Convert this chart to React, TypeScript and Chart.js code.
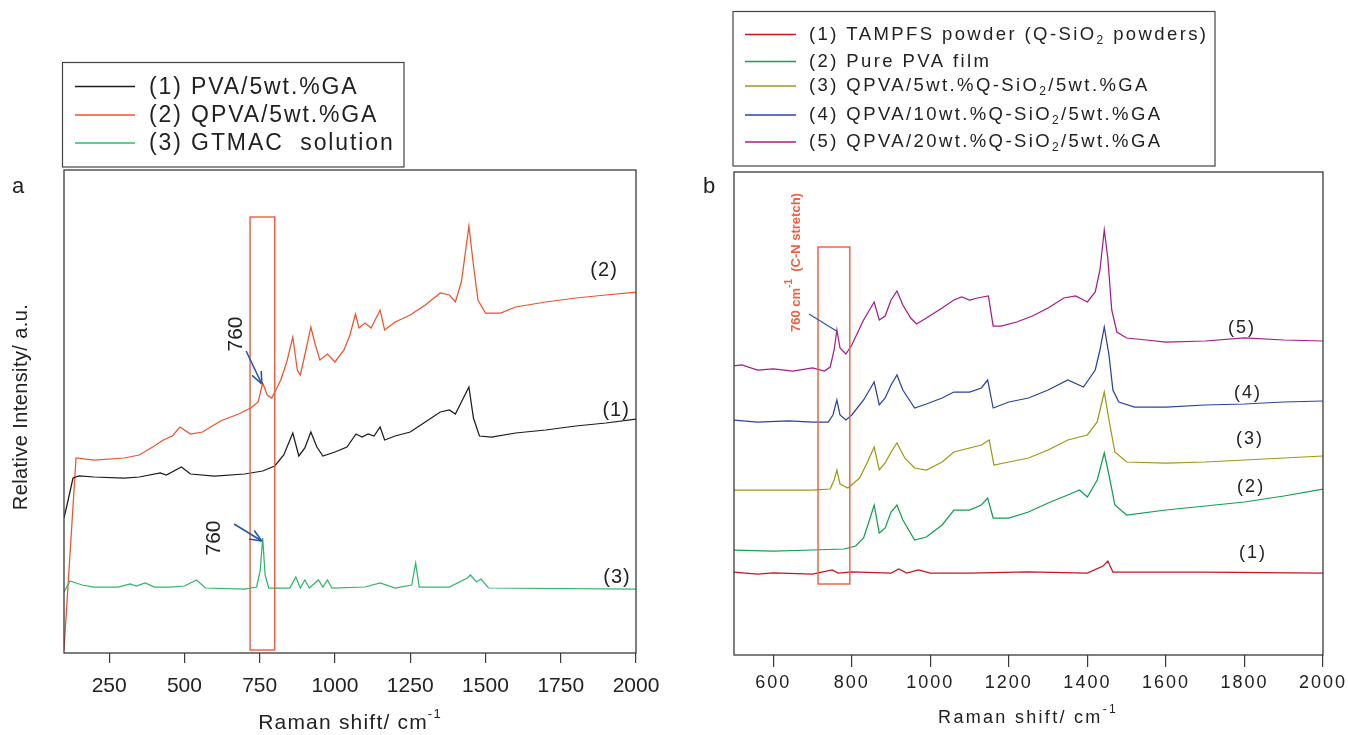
import React, { useEffect, useRef } from 'react';
import { Chart, registerables } from 'chart.js';

Chart.register(...registerables);

// ---------------- Panel a data ----------------
const A_X_TICKS = [250, 500, 750, 1000, 1250, 1500, 1750, 2000];

const A1_SHIFT = [100, 110, 130, 150, 200, 300, 350, 420, 440, 490, 520, 600, 700, 760, 800, 830, 860, 880, 900, 920, 940, 960, 1000, 1040, 1070, 1090, 1110, 1130, 1150, 1165, 1200, 1250, 1300, 1350, 1380, 1400, 1420, 1445, 1460, 1480, 1520, 1600, 1700, 1800, 1900, 2000];
const A1_INT = [135, 148, 175, 177, 176, 175, 176, 180, 178, 186, 179, 177, 179, 182, 187, 198, 220, 197, 205, 221, 206, 197, 201, 206, 219, 216, 219, 217, 226, 213, 217, 221, 231, 241, 243, 239, 251, 266, 235, 217, 216, 220, 223, 227, 230, 234];

const A2_SHIFT = [100, 140, 200, 300, 350, 400, 430, 460, 485, 520, 560, 620, 680, 720, 745, 760, 775, 790, 820, 840, 860, 875, 885, 900, 920, 935, 950, 975, 1000, 1030, 1050, 1068, 1080, 1100, 1120, 1150, 1165, 1200, 1250, 1300, 1350, 1380, 1400, 1420, 1445, 1460, 1475, 1500, 1550, 1600, 1700, 1800, 1900, 2000];
const A2_INT = [3, 195, 193, 195, 198, 207, 213, 217, 226, 219, 221, 232, 239, 245, 251, 270, 258, 255, 273, 291, 316, 283, 278, 298, 326, 308, 293, 299, 291, 303, 318, 339, 325, 330, 325, 343, 323, 331, 338, 348, 360, 358, 351, 371, 427, 388, 353, 340, 340, 346, 351, 355, 358, 361];

const A3_SHIFT = [100, 120, 140, 160, 200, 280, 320, 340, 370, 400, 450, 500, 540, 570, 700, 740, 752, 760, 768, 780, 850, 870, 885, 900, 915, 945, 960, 975, 990, 1100, 1150, 1200, 1255, 1268, 1280, 1380, 1440, 1450, 1470, 1485, 1510, 2000];
const A3_INT = [61, 72, 70, 68, 66, 66, 69, 67, 70, 66, 66, 67, 73, 65, 64, 66, 83, 115, 78, 65, 65, 76, 65, 73, 65, 73, 66, 73, 65, 66, 70, 65, 68, 90, 66, 66, 75, 78, 71, 74, 65, 64];

const A_LABELS = ['(1) PVA/5wt.%GA', '(2) QPVA/5wt.%GA', '(3) GTMAC  solution'];
const A_COLORS = ['#1c1c1c', '#f0522c', '#2fb768'];

// ---------------- Panel b data ----------------
const B_X_TICKS = [600, 800, 1000, 1200, 1400, 1600, 1800, 2000];

const B1_SHIFT = [500, 560, 600, 700, 750, 765, 800, 900, 920, 940, 970, 1000, 1100, 1250, 1400, 1440, 1452, 1465, 1700, 2000];
const B1_INT = [83, 81, 82, 81, 85, 82, 83, 82, 86, 82, 85, 82, 82, 83, 82, 89, 94, 83, 83, 82];

const B2_SHIFT = [500, 600, 700, 780, 810, 830, 845, 857, 870, 885, 900, 915, 930, 960, 990, 1030, 1060, 1100, 1130, 1146, 1160, 1200, 1250, 1300, 1350, 1380, 1400, 1425, 1443, 1455, 1470, 1500, 1600, 1700, 1800, 1900, 2000];
const B2_INT = [105, 104, 105, 106, 109, 117, 135, 150, 122, 127, 143, 150, 135, 115, 118, 130, 145, 145, 150, 157, 137, 137, 143, 152, 160, 165, 158, 175, 202, 180, 150, 140, 145, 149, 153, 159, 166];

const B3_SHIFT = [500, 600, 700, 745, 755, 762, 770, 790, 820, 840, 857, 870, 885, 900, 915, 935, 960, 990, 1030, 1060, 1100, 1130, 1150, 1162, 1200, 1250, 1300, 1350, 1400, 1425, 1443, 1455, 1470, 1500, 1600, 1700, 1800, 1900, 2000];
const B3_INT = [165, 165, 165, 166, 175, 185, 171, 167, 177, 193, 208, 185, 192, 203, 212, 197, 187, 185, 193, 203, 207, 210, 215, 190, 193, 197, 205, 215, 220, 233, 263, 235, 203, 193, 192, 193, 195, 197, 199];

const B4_SHIFT = [500, 560, 640, 700, 740, 752, 762, 770, 785, 800, 830, 845, 857, 870, 885, 900, 915, 930, 960, 990, 1030, 1060, 1100, 1130, 1146, 1160, 1200, 1250, 1300, 1350, 1390, 1420, 1432, 1443, 1455, 1465, 1480, 1520, 1600, 1700, 1800, 1900, 2000];
const B4_INT = [235, 233, 234, 233, 233, 240, 255, 240, 235, 240, 255, 265, 273, 250, 257, 270, 280, 265, 247, 251, 257, 263, 263, 267, 275, 247, 253, 257, 265, 275, 268, 285, 305, 328, 300, 265, 253, 248, 248, 250, 251, 253, 254];

const B5_SHIFT = [500, 520, 560, 600, 650, 700, 730, 745, 755, 762, 770, 785, 800, 830, 845, 857, 870, 885, 900, 915, 930, 950, 965, 990, 1030, 1060, 1080, 1100, 1120, 1148, 1160, 1180, 1220, 1260, 1300, 1340, 1370, 1400, 1420, 1432, 1443, 1452, 1462, 1475, 1500, 1550, 1600, 1700, 1800, 1900, 2000];
const B5_INT = [289, 290, 285, 286, 284, 287, 284, 288, 305, 325, 307, 301, 310, 335, 345, 353, 335, 339, 355, 364, 350, 337, 331, 337, 347, 355, 358, 355, 357, 359, 329, 329, 333, 339, 347, 357, 359, 353, 363, 385, 425, 397, 345, 323, 317, 315, 313, 314, 317, 315, 314];

const B_LABELS = [
  ['(1) TAMPFS powder (Q-SiO', '2', ' powders)'],
  ['(2) Pure PVA film', '', ''],
  ['(3) QPVA/5wt.%Q-SiO', '2', '/5wt.%GA'],
  ['(4) QPVA/10wt.%Q-SiO', '2', '/5wt.%GA'],
  ['(5) QPVA/20wt.%Q-SiO', '2', '/5wt.%GA'],
];
const B_COLORS = ['#c8141e', '#12a052', '#9c9a16', '#2a449c', '#a41c8c'];

const FAMILY = 'Liberation Sans';
const RED_BOX = '#f05a3c';
const ARROW = '#2a56a8';

type Part = { t: string; s?: number; dy?: number };

function drawRich(ctx: CanvasRenderingContext2D, parts: Part[], x: number, y: number, size: number,
  o: { color: string; align?: 'left' | 'center'; spacing?: number; weight?: string }) {
  ctx.save();
  ctx.fillStyle = o.color;
  ctx.textBaseline = 'middle';
  ctx.textAlign = 'left';
  (ctx as any).letterSpacing = (o.spacing ?? 0) + 'px';
  const w = o.weight ?? 'normal';
  const widths = parts.map(p => { ctx.font = `${w} ${p.s ?? size}px "${FAMILY}"`; return ctx.measureText(p.t).width; });
  const total = widths.reduce((a, b) => a + b, 0);
  let cx = o.align === 'center' ? x - total / 2 : x;
  parts.forEach((p, i) => {
    ctx.font = `${w} ${p.s ?? size}px "${FAMILY}"`;
    ctx.fillText(p.t, cx, y + (p.dy ?? 0));
    cx += widths[i];
  });
  ctx.restore();
}

function rotated(ctx: CanvasRenderingContext2D, x: number, y: number, fn: () => void) {
  ctx.save();
  ctx.translate(x, y);
  ctx.rotate(-Math.PI / 2);
  fn();
  ctx.restore();
}

function line(ctx: CanvasRenderingContext2D, x0: number, y0: number, x1: number, y1: number, color: string, w: number) {
  ctx.save();
  ctx.strokeStyle = color;
  ctx.lineWidth = w;
  ctx.beginPath();
  ctx.moveTo(x0, y0);
  ctx.lineTo(x1, y1);
  ctx.stroke();
  ctx.restore();
}

function arrow(ctx: CanvasRenderingContext2D, x0: number, y0: number, x1: number, y1: number) {
  line(ctx, x0, y0, x1, y1, ARROW, 1.6);
  const a = Math.atan2(y1 - y0, x1 - x0);
  const L = 13;
  for (const d of [-0.4, 0.4]) {
    line(ctx, x1, y1, x1 - L * Math.cos(a + d), y1 - L * Math.sin(a + d), ARROW, 1.6);
  }
}

function frame(chart: any) {
  const { ctx, chartArea: c } = chart;
  ctx.save();
  ctx.strokeStyle = '#3a3a3a';
  ctx.lineWidth = 1.3;
  ctx.strokeRect(c.left, c.top, c.right - c.left, c.bottom - c.top);
  ctx.restore();
}

const series = (xs: number[], ys: number[]) => xs.map((x, i) => ({ x, y: ys[i] }));

const ds = (xs: number[], ys: number[], color: string, w = 1.25) => ({
  data: series(xs, ys),
  borderColor: color,
  borderWidth: w,
  pointRadius: 0,
  tension: 0,
  fill: false,
});

// ---------------- Panel a plugin ----------------
const decorA = {
  id: 'decorA',
  afterDraw(chart: any) {
    const { ctx } = chart;
    const xs = chart.scales.x;
    const ys = chart.scales.y;
    const X = (v: number) => xs.getPixelForValue(v);
    const Y = (v: number) => ys.getPixelForValue(v);

    ctx.save();
    ctx.strokeStyle = RED_BOX;
    ctx.lineWidth = 1.4;
    ctx.strokeRect(X(718), Y(436), X(800) - X(718), Y(3) - Y(436));
    ctx.restore();

    frame(chart);

    arrow(ctx, X(705), Y(302), X(757), Y(269));
    arrow(ctx, X(665), Y(129), X(757), Y(112));
    rotated(ctx, X(671), Y(319), () => drawRich(ctx, [{ t: '760' }], 0, 0, 21, { color: '#222', align: 'center' }));
    rotated(ctx, X(598), Y(115), () => drawRich(ctx, [{ t: '760' }], 0, 0, 21, { color: '#222', align: 'center' }));

    drawRich(ctx, [{ t: '(2)' }], X(1894), Y(383), 20, { color: '#222', align: 'center', spacing: 1 });
    drawRich(ctx, [{ t: '(1)' }], X(1934), Y(243), 20, { color: '#222', align: 'center', spacing: 1 });
    drawRich(ctx, [{ t: '(3)' }], X(1937), Y(76), 20, { color: '#222', align: 'center', spacing: 1 });

    ctx.save();
    ctx.strokeStyle = '#444';
    ctx.lineWidth = 1.2;
    ctx.strokeRect(62.5, 62.5, 341.5, 104.5);
    ctx.restore();
    const rowsY = [86.5, 115, 143];
    A_LABELS.forEach((lab, i) => {
      line(ctx, 75, rowsY[i], 135, rowsY[i], A_COLORS[i], 1.3);
      drawRich(ctx, [{ t: lab }], 149, rowsY[i] + 1, 23, { color: '#222', spacing: 1.9 });
    });

    drawRich(ctx, [{ t: 'a' }], 12, 187, 22, { color: '#222' });
    drawRich(ctx, [{ t: 'Raman shift/ cm' }, { t: '-1', s: 13, dy: -9 }], 350, 723, 21, { color: '#222', align: 'center', spacing: 1.2 });
    rotated(ctx, 21, 407, () => drawRich(ctx, [{ t: 'Relative Intensity/ a.u.' }], 0, 0, 20, { color: '#222', align: 'center', spacing: 0.4 }));
  },
};

// ---------------- Panel b plugin ----------------
const OFF_B = 680;
const spacingB = {
  id: 'spacingB',
  beforeDraw(chart: any) {
    (chart.ctx as any).letterSpacing = '2px';
  },
};

const decorB = {
  id: 'decorB',
  afterDraw(chart: any) {
    const { ctx } = chart;
    const xs = chart.scales.x;
    const ys = chart.scales.y;
    const X = (v: number) => xs.getPixelForValue(v);
    const Y = (v: number) => ys.getPixelForValue(v);
    const P = (px: number) => px - OFF_B;

    ctx.save();
    ctx.strokeStyle = RED_BOX;
    ctx.lineWidth = 1.4;
    ctx.strokeRect(X(714), Y(408), X(795) - X(714), Y(71) - Y(408));
    ctx.restore();

    frame(chart);

    line(ctx, X(691), Y(341), X(761), Y(324), ARROW, 1.2);
    rotated(ctx, X(660), Y(323), () =>
      drawRich(ctx, [{ t: '760 cm' }, { t: '-1', s: 10, dy: -8 }, { t: '  (C-N stretch)' }], 0, 0, 13,
        { color: '#f06040', weight: 'bold', spacing: 0 }));

    const lab = [
      { t: '(5)', x: 1794, y: 327 },
      { t: '(4)', x: 1809, y: 262 },
      { t: '(3)', x: 1814, y: 216 },
      { t: '(2)', x: 1817, y: 168 },
      { t: '(1)', x: 1822, y: 102 },
    ];
    lab.forEach(l => drawRich(ctx, [{ t: l.t }], X(l.x), Y(l.y), 18, { color: '#222', align: 'center', spacing: 2 }));

    ctx.save();
    ctx.strokeStyle = '#444';
    ctx.lineWidth = 1.2;
    ctx.strokeRect(P(733), 11.5, 482, 154.5);
    ctx.restore();
    const rowsY = [34.5, 61.5, 86, 115, 142];
    B_LABELS.forEach((parts, i) => {
      line(ctx, P(745), rowsY[i], P(796), rowsY[i], B_COLORS[i], 1.3);
      const rp: Part[] = [{ t: parts[0] }];
      if (parts[1]) rp.push({ t: parts[1], s: 12, dy: 6 });
      if (parts[2]) rp.push({ t: parts[2] });
      drawRich(ctx, rp, P(809), rowsY[i], 18.5, { color: '#222', spacing: 2.4 });
    });

    drawRich(ctx, [{ t: 'b' }], P(703), 187, 22, { color: '#222' });
    drawRich(ctx, [{ t: 'Raman shift/ cm' }, { t: '-1', s: 12, dy: -8 }], P(1028), 718, 18, { color: '#222', align: 'center', spacing: 2.3 });
  },
};

function xScale(min: number, ticks: number[], height: number, tickLen: number, pad: number, size: number) {
  return {
    type: 'linear' as const,
    min,
    max: 2000,
    afterBuildTicks: (s: any) => { s.ticks = ticks.map(v => ({ value: v })); },
    afterFit: (s: any) => { s.height = height; },
    grid: { display: true, drawOnChartArea: false, drawTicks: true, tickLength: tickLen, color: '#3a3a3a', lineWidth: 1.2 },
    border: { display: false },
    ticks: { font: { family: FAMILY, size }, color: '#222', padding: pad, maxRotation: 0, autoSkip: false, callback: (v: any) => String(v) },
  };
}

export default function App() {
  const refA = useRef<HTMLCanvasElement>(null);
  const refB = useRef<HTMLCanvasElement>(null);

  useEffect(() => {
    const chartA = new Chart(refA.current!, {
      type: 'line',
      data: {
        datasets: [
          ds(A3_SHIFT, A3_INT, A_COLORS[2]),
          ds(A1_SHIFT, A1_INT, A_COLORS[0]),
          ds(A2_SHIFT, A2_INT, A_COLORS[1]),
        ],
      },
      options: {
        responsive: false,
        animation: false,
        layout: { padding: { left: 64, right: 680 - 636, top: 170, bottom: 0 } },
        plugins: { legend: { display: false }, tooltip: { enabled: false } },
        scales: {
          x: xScale(100, A_X_TICKS, 735 - 653, 10, 11, 21) as any,
          y: { display: false, min: 0, max: 483 },
        },
      },
      plugins: [decorA],
    });

    const chartB = new Chart(refB.current!, {
      type: 'line',
      data: {
        datasets: [
          ds(B1_SHIFT, B1_INT, B_COLORS[0]),
          ds(B2_SHIFT, B2_INT, B_COLORS[1]),
          ds(B3_SHIFT, B3_INT, B_COLORS[2]),
          ds(B4_SHIFT, B4_INT, B_COLORS[3]),
          ds(B5_SHIFT, B5_INT, B_COLORS[4]),
        ],
      },
      options: {
        responsive: false,
        animation: false,
        layout: { padding: { left: 734 - OFF_B, right: 1348 - 1323, top: 172, bottom: 0 } },
        plugins: { legend: { display: false }, tooltip: { enabled: false } },
        scales: {
          x: xScale(500, B_X_TICKS, 735 - 655, 12, 5, 18) as any,
          y: { display: false, min: 0, max: 483 },
        },
      },
      plugins: [spacingB, decorB],
    });

    return () => { chartA.destroy(); chartB.destroy(); };
  }, []);

  return (
    <div style={{ position: 'absolute', left: 0, top: 0, width: 1348, height: 735, background: '#fff', overflow: 'hidden' }}>
      <canvas ref={refA} width={680} height={735} style={{ position: 'absolute', left: 0, top: 0 }} />
      <canvas ref={refB} width={668} height={735} style={{ position: 'absolute', left: OFF_B, top: 0 }} />
    </div>
  );
}
